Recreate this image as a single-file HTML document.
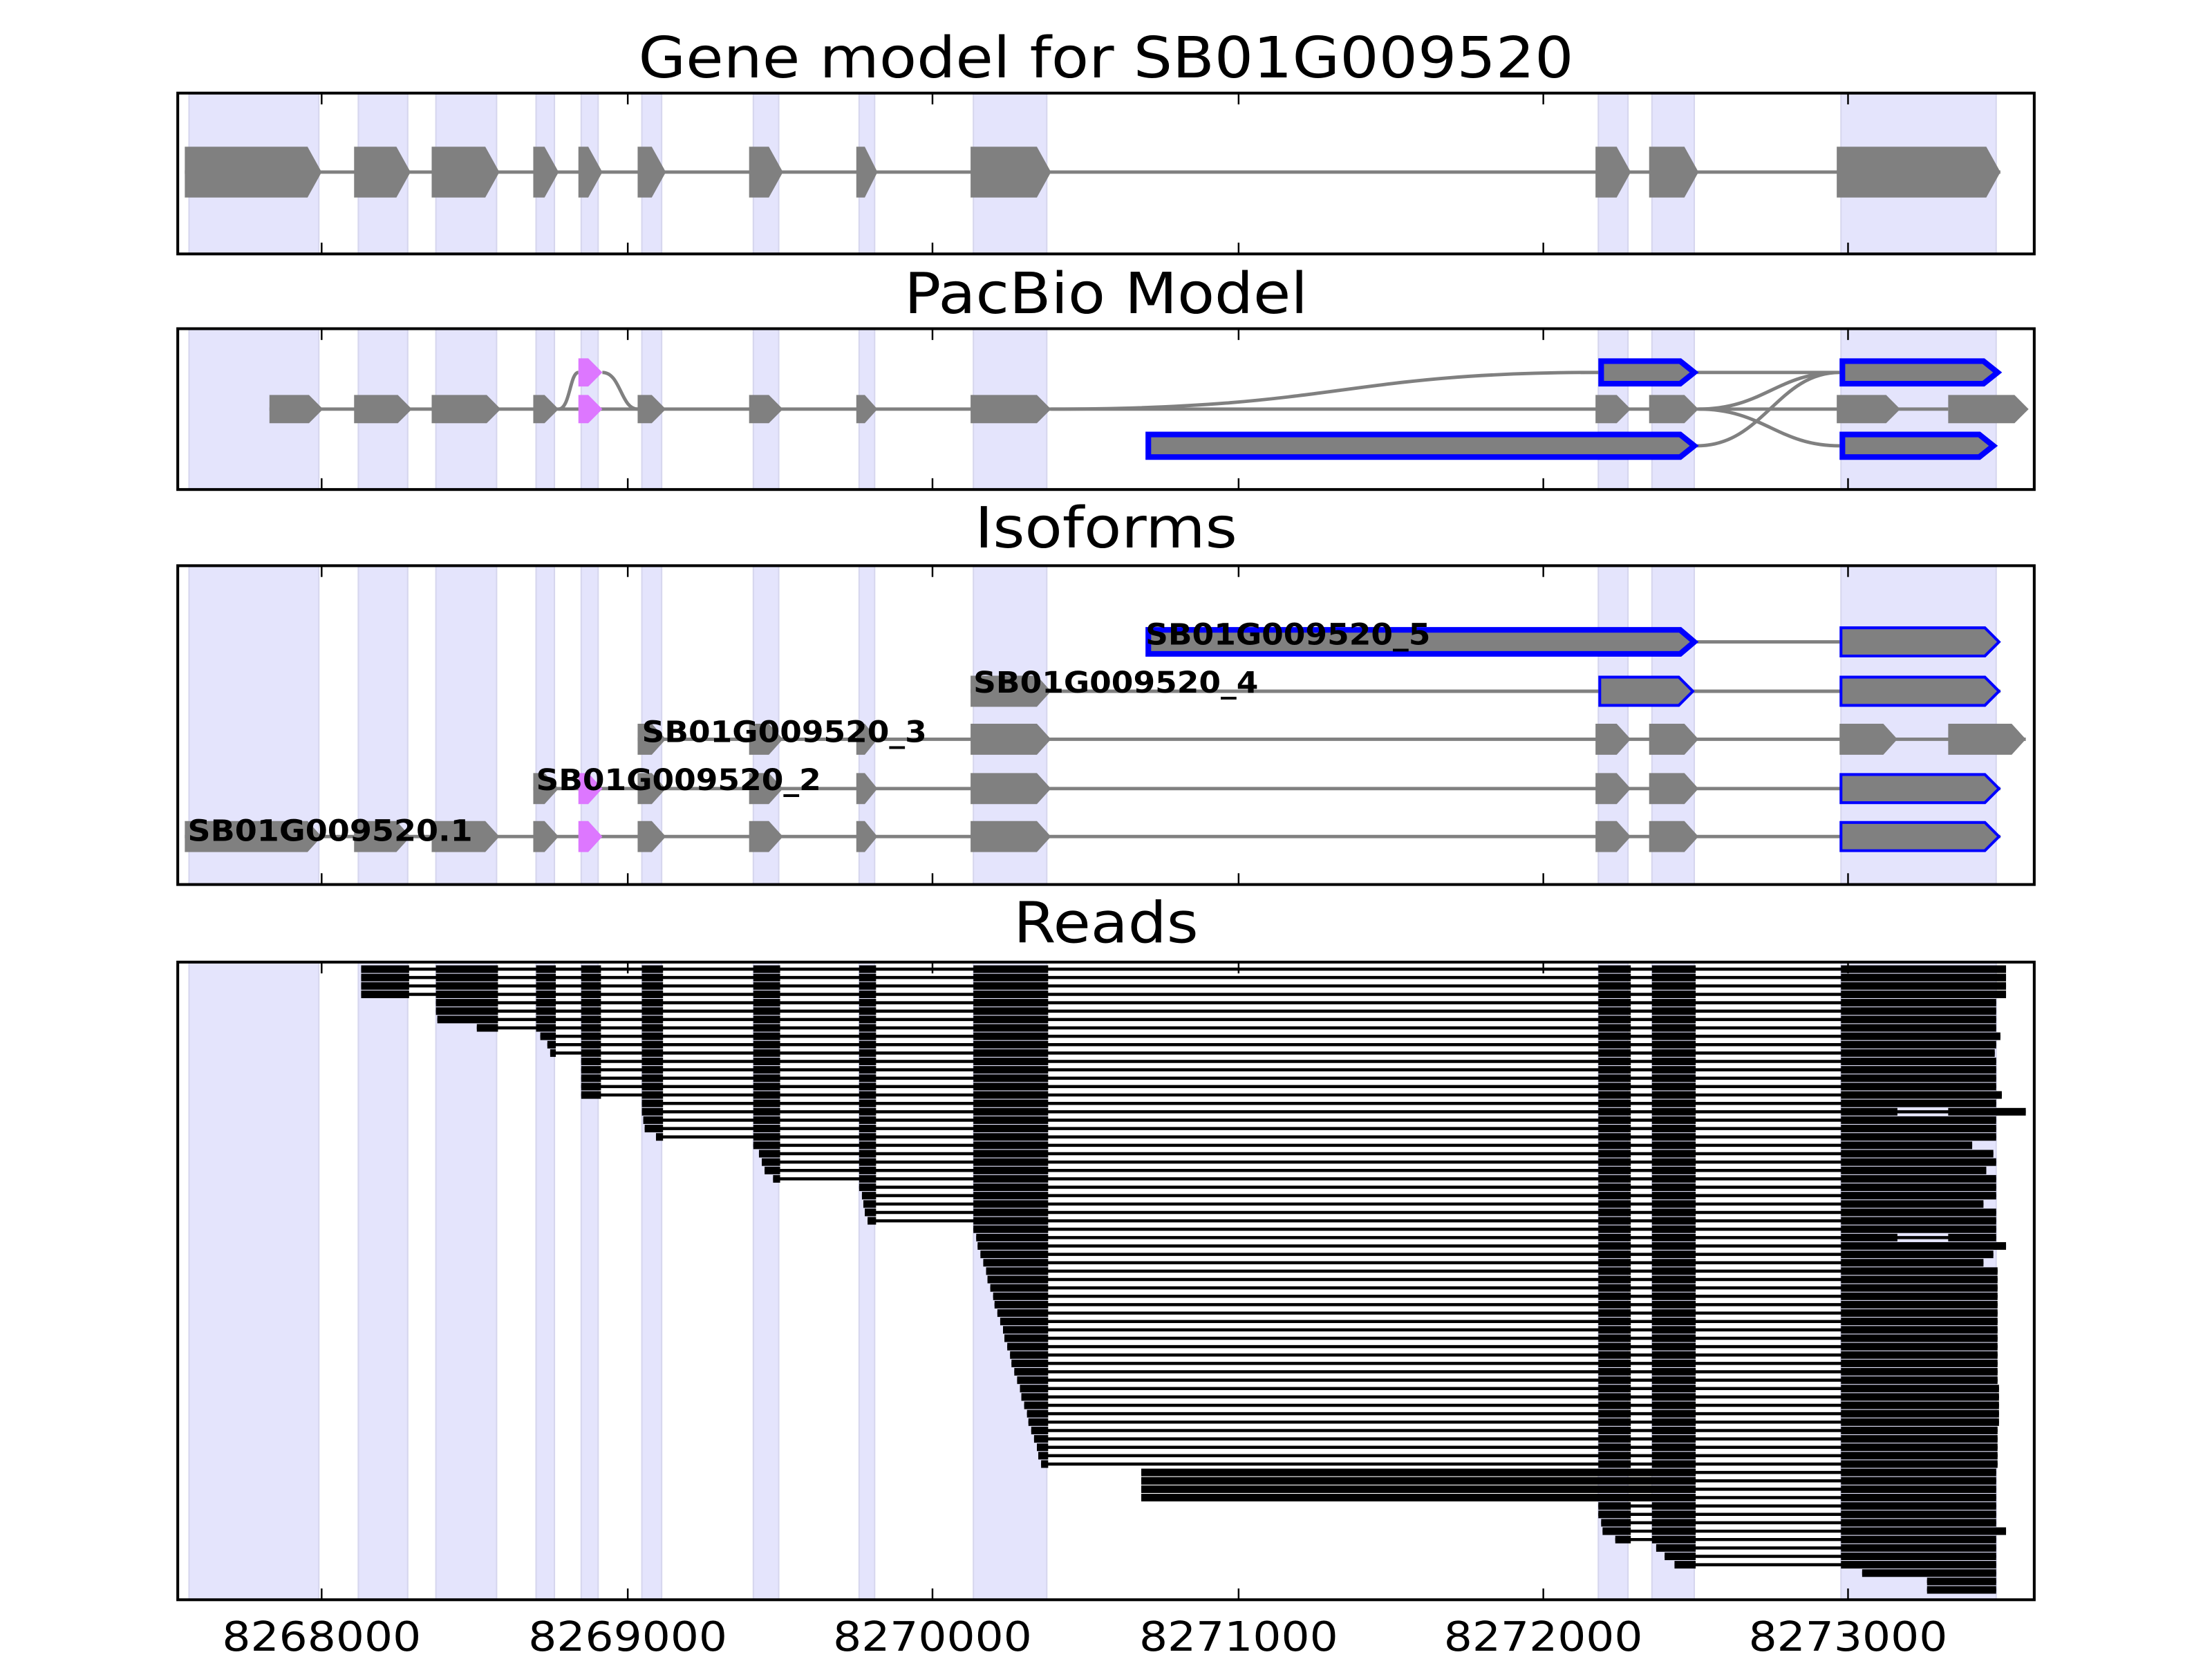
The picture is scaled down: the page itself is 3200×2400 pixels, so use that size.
<!DOCTYPE html>
<html><head><meta charset="utf-8"><style>html,body{margin:0;padding:0;background:#fff}svg{display:block}</style></head>
<body>
<svg id="s" xmlns="http://www.w3.org/2000/svg" width="3200" height="2400" viewBox="0 0 1568 1176" font-family="DejaVu Sans, Liberation Sans, sans-serif"></svg>
<script>
const S=document.getElementById('s');let h='';
const panels=[[66,180],[233,347],[401,627],[682,1134]];
const shades=[[134,226],[254,289],[309,352],[380,393],[412,424],[455,469],[534,552],[609,620],[690,742],[1133,1154],[1171,1201],[1305,1415]];
const ticks=[228,445,661,878,1094,1310];
for(const [a,b] of panels){for(const [x1,x2] of shades){h+=`<rect x="${x1}" y="${a}" width="${x2-x1}" height="${b-a}" fill="#e4e4fc" stroke="#d6d6ee" stroke-width="1"/>`;}}
function ex(x1,x2,y,hh,fill,stroke,sw){const p=Math.min(10,(x2-x1)*0.6);const t=y-hh/2,b=y+hh/2;
 return `<polygon points="${x1},${t} ${x2-p},${t} ${x2},${y} ${x2-p},${b} ${x1},${b}" fill="${fill}" ${stroke?`stroke="${stroke}" stroke-width="${sw}" stroke-linejoin="miter"`:''}/>`;}
function line(x1,x2,y,c,w){return `<line x1="${x1}" y1="${y}" x2="${x2}" y2="${y}" stroke="${c||'#808080'}" stroke-width="${w||2.4}"/>`;}
const G='#808080',M='#dd77ff',B='#0000ff';
const std=[[131,228],[251,291],[306,354],[378,396],[410,427],[452,472],[531,555],[607,622],[688,745],[1131,1156],[1169,1204],[1302,1418]];
h+=line(131,1418,122);for(const e of std)h+=ex(e[0],e[1],122,36,e[2]||G);
h+=line(191,1347,290);h+=line(1347,1381,290);
h+=`<path d="M396,290 C404,290 404,264 410,264 M427,264 C440,264 440,290 452,290 M745,290 C950,290 950,264 1133,264 M1203,264 L1304,264 M1204,290 C1250,290 1260,264 1304,264 M1204,290 C1250,290 1260,316 1304,316 M1203,316 C1250,316 1260,264 1304,264" fill="none" stroke="${G}" stroke-width="2.4"/>`;
const mid=[[191,229],[251,292],[306,355],[378,396],[410,427,M],[452,472],[531,555],[607,622],[688,745],[1131,1156],[1169,1204],[1302,1347],[1381,1438]];
for(const e of mid)h+=ex(e[0],e[1],290,20,e[2]||G);
h+=ex(410,427,264,20,M);
h+=ex(1135,1201,264,16,G,B,4);h+=ex(1306,1416,264,16,G,B,4);
h+=ex(814,1201,316,16,G,B,4);h+=ex(1306,1413,316,16,G,B,4);
function row(y,exs){h+=line(exs[0][0],exs[exs.length-1][1],y);for(const e of exs){if(e[3])h+=ex(e[0]+1,e[1]-1,y,20,G,B,e[3]);else h+=ex(e[0],e[1],y,22,e[2]||G);}}
const tail=[[1304,1418,0,2]];
row(593,[[131,228],[251,291],[306,354],[378,396],[410,427,M],[452,472],[531,555],[607,622],[688,745],[1131,1156],[1169,1204],...tail]);
row(559,[[378,396],[410,427,M],[452,472],[531,555],[607,622],[688,745],[1131,1156],[1169,1204],...tail]);
row(524,[[452,472],[531,555],[607,622],[688,745],[1131,1156],[1169,1204],[1304,1345],[1381,1436]]);
row(490,[[688,745],[1133,1201,0,2],...tail]);
h+=line(1203,1304,455);h+=ex(814,1201,455,17,G,B,4);h+=ex(1305,1417,455,20,G,B,2);
const lab=[[133,594,'SB01G009520.1'],[380,558,'SB01G009520_2'],[455,524,'SB01G009520_3'],[690,489,'SB01G009520_4'],[812,455,'SB01G009520_5']];
for(const [x,y,t] of lab)h+=`<text x="${x}" y="${y+2}" font-size="21" font-weight="bold" textLength="202" lengthAdjust="spacingAndGlyphs">${t}</text>`;
const full=[[256,290],[309,353],[380,394],[412,426],[455,470],[534,553],[609,621],[690,743],[1133,1156],[1171,1202]];
const ends=[1422,1422,1422,1422,1415,1415,1415,1415,1418,1415,1414,1415,1415,1415,1415,1419,1415,1436,1415,1415,1415,1398,1413,1415,1408,1415,1415,1415,1406,1415,1415,1415,1415,1422,1413,1406,1416,1416,1416,1416,1416,1416,1416,1416,1416,1416,1416,1416,1416,1416,1417,1417,1417,1417,1417,1416,1416,1416,1416,1416,1415,1415,1415,1415,1415,1415,1415,1422,1415,1415,1415,1415,1415,1415,1415];
let rows=[];
function add(n,starts){for(let i=0;i<n;i++)rows.push(starts(i));}
add(4,i=>256);add(3,i=>308+i);add(1,i=>338);add(3,i=>[383,388,390][i]);add(5,i=>412);add(5,i=>[455,455,456,457,465][i]);
add(5,i=>[534,538,540,542,548][i]);add(5,i=>[609,611,612,613,615][i]);
add(29,i=>Math.round(690+i*48/28));add(4,i=>809);add(5,i=>[1133,1133,1135,1136,1145][i]);add(3,i=>[1174,1180,1187][i]);
add(1,i=>1320);add(2,i=>1366);
let y0=687,dy=(1127-687)/(rows.length-1);
rows.forEach((st,i)=>{const y=y0+i*dy;const e=ends[i]||1415;let blocks=[];
 if(st<1300){if(st>=800&&st<1000){blocks.push([809,1202]);}else{for(const f of full){if(f[1]<=st)continue;blocks.push([Math.max(f[0],st),f[1]]);}}
  if(i===17||i===32){blocks.push([1305,1345]);blocks.push([1381,e]);}else blocks.push([1305,e]);}
 else blocks.push([st,e]);
 h+=`<line x1="${blocks[0][0]}" y1="${y}" x2="${blocks[blocks.length-1][1]}" y2="${y}" stroke="#000" stroke-width="2.2"/>`;
 for(const b of blocks)h+=`<rect x="${b[0]}" y="${y-2.7}" width="${b[1]-b[0]}" height="5.4" fill="#000"/>`;});
for(const [a,b] of panels){for(const t of ticks)h+=`<line x1="${t}" y1="${a}" x2="${t}" y2="${a+8}" stroke="#000" stroke-width="1.2"/><line x1="${t}" y1="${b}" x2="${t}" y2="${b-8}" stroke="#000" stroke-width="1.2"/>`;
 h+=`<rect x="126" y="${a}" width="1316" height="${b-a}" fill="none" stroke="#000" stroke-width="2"/>`;}
const titles=[[55,'Gene model for SB01G009520',663],[222,'PacBio Model',286],[388,'Isoforms',186],[668,'Reads',131]];
for(const [y,t,w] of titles)h+=`<text x="784" y="${y}" font-size="40" text-anchor="middle" textLength="${w}" lengthAdjust="spacingAndGlyphs">${t}</text>`;
ticks.forEach((t,i)=>{h+=`<text x="${t}" y="1170" font-size="29" text-anchor="middle" textLength="141" lengthAdjust="spacingAndGlyphs">${8268000+i*1000}</text>`;});
S.innerHTML=h;
</script>
</body></html>
